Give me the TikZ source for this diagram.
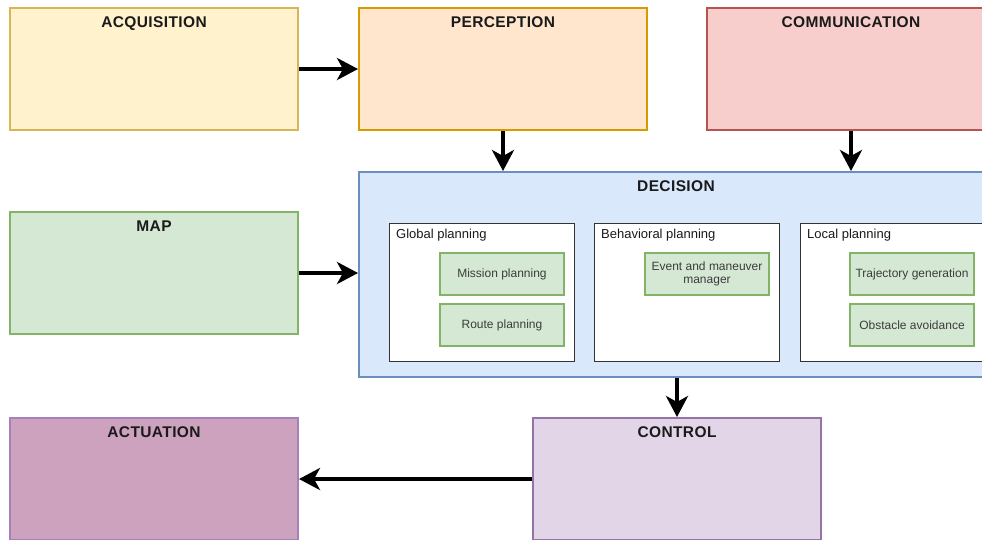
\documentclass[tikz,border=0pt]{standalone}
\usepackage{fontspec}
\setmainfont{Liberation Sans}
\newfontfamily\titlefont[LetterSpace=2.5]{Liberation Sans}
\usetikzlibrary{arrows.meta}
\definecolor{acqF}{HTML}{FFF2CC}\definecolor{acqD}{HTML}{D6B656}
\definecolor{perF}{HTML}{FFE6CC}\definecolor{perD}{HTML}{D79B00}
\definecolor{comF}{HTML}{F8CECC}\definecolor{comD}{HTML}{B85450}
\definecolor{decF}{HTML}{DAE8FC}\definecolor{decD}{HTML}{6C8EBF}
\definecolor{mapF}{HTML}{D5E8D4}\definecolor{mapD}{HTML}{82B366}
\definecolor{actF}{HTML}{CDA2BE}\definecolor{actD}{HTML}{A680B8}
\definecolor{ctlF}{HTML}{E1D5E7}\definecolor{ctlD}{HTML}{9673A6}
\definecolor{txt}{HTML}{1A1A1A}
\tikzset{
  bigbox/.style={draw=#1D, fill=#1F, line width=2pt, rectangle, inner sep=0pt,
    minimum width=288pt, minimum height=122pt},
  ttl/.style={anchor=base, yshift=-20pt, font=\titlefont\fontsize{15.5}{18}\selectfont\bfseries, text=txt, inner sep=0pt},
  subbox/.style={draw=black!80, fill=white, line width=1pt, rectangle, inner sep=0pt,
    minimum width=185pt, minimum height=138pt},
  subttl/.style={anchor=base west, xshift=7.5pt, yshift=-16pt, font=\fontsize{13}{15}\selectfont, text=txt, inner sep=0pt},
  leaf/.style={draw=mapD, fill=mapF, line width=2pt, rectangle, inner sep=0pt,
    minimum width=124pt, minimum height=42pt, align=center,
    font=\fontsize{12}{13.5}\selectfont, text=txt!85},
  conn/.style={line width=4pt, -{Stealth[length=21pt,width=22pt,inset=6pt]}}
}
\begin{document}
\begin{tikzpicture}[x=1pt,y=-1pt]
\useasboundingbox (0,0) rectangle (982,539);
\clip (0,0) rectangle (982,539);
% top row
\node[bigbox=acq] (acq) at (154,69) {};
\node[ttl] at (acq.north) {ACQUISITION};
\node[bigbox=per] (per) at (503,69) {};
\node[ttl] at (per.north) {PERCEPTION};
\node[bigbox=com] (com) at (851,69) {};
\node[ttl] at (com.north) {COMMUNICATION};
% middle row
\node[bigbox=map] (map) at (154,273) {};
\node[ttl] at (map.north) {MAP};
\node[bigbox=dec, minimum width=634pt, minimum height=205pt] (dec) at (676,274.5) {};
\node[ttl] at (dec.north) {DECISION};
% sub boxes
\node[subbox] (glob) at (481.5,292) {};
\node[subttl] at (glob.north west) {Global planning};
\node[subbox] (beh) at (686.5,292) {};
\node[subttl] at (beh.north west) {Behavioral planning};
\node[subbox] (loc) at (892.5,292) {};
\node[subttl] at (loc.north west) {Local planning};
\node[leaf] (mis) at (502,274) {Mission planning};
\node[leaf] (rou) at (502,325) {Route planning};
\node[leaf] (evt) at (707,274) {Event and maneuver\\manager};
\node[leaf] (tra) at (912,274) {Trajectory generation};
\node[leaf] (obs) at (912,325) {Obstacle avoidance};
% bottom row
\node[bigbox=act] (act) at (154,479) {};
\node[ttl] at (act.north) {ACTUATION};
\node[bigbox=ctl] (ctl) at (677,479) {};
\node[ttl] at (ctl.north) {CONTROL};
% connectors
\draw[conn] (acq.east) -- (per.west);
\draw[conn] (per.south) -- (per.south |- dec.north);
\draw[conn] (com.south) -- (com.south |- dec.north);
\draw[conn] (map.east) -- (map.east -| dec.west);
\draw[conn] (ctl.north |- dec.south) -- (ctl.north);
\draw[conn] (ctl.west) -- (act.east);
\end{tikzpicture}
\end{document}
